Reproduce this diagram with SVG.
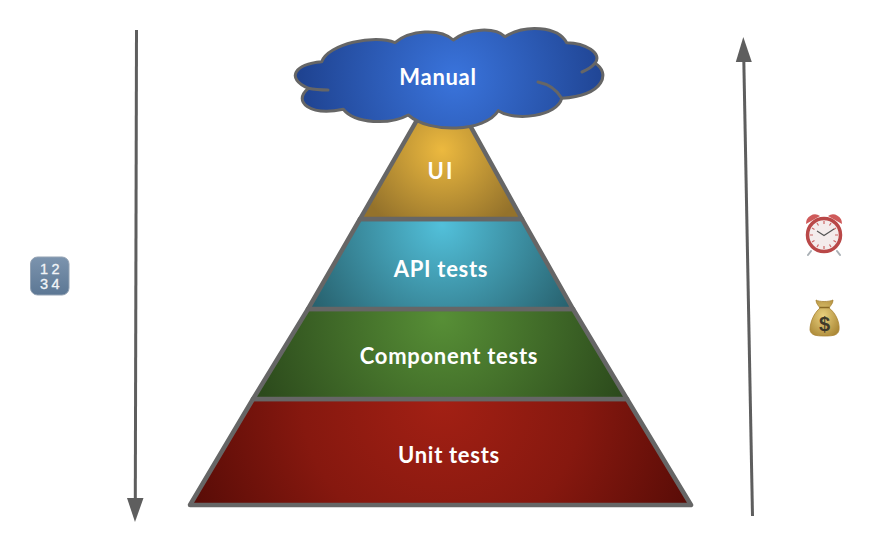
<svg xmlns="http://www.w3.org/2000/svg" width="880" height="557" viewBox="0 0 880 557">
<style>
.band{stroke:#666;stroke-width:4.500;stroke-linejoin:round}
.lbl{font-family:"Lato","Liberation Sans",sans-serif;font-weight:700;font-size:22px;fill:#fff;text-anchor:middle;letter-spacing:.7px}
.conn{fill:none;stroke:#5e5e5e;stroke-width:3}
.tile{font-family:"Liberation Sans",sans-serif;font-size:14.500px;fill:#f2f5f8;stroke:#f2f5f8;stroke-width:.3;text-anchor:middle;letter-spacing:3.500px}
</style>
<defs>
<radialGradient id="gBlue" gradientUnits="userSpaceOnUse" cx="455" cy="78" r="155"><stop offset="0" stop-color="#3a74dc"/><stop offset="1" stop-color="#1f4391"/></radialGradient>
<radialGradient id="gGold" gradientUnits="userSpaceOnUse" cx="442" cy="150" r="90"><stop offset="0" stop-color="#ecb93f"/><stop offset="1" stop-color="#94722b"/></radialGradient>
<radialGradient id="gTeal" gradientUnits="userSpaceOnUse" cx="442" cy="225" r="150"><stop offset="0" stop-color="#52c0da"/><stop offset="1" stop-color="#28626f"/></radialGradient>
<radialGradient id="gGreen" gradientUnits="userSpaceOnUse" cx="442" cy="318" r="195"><stop offset="0" stop-color="#578f36"/><stop offset="1" stop-color="#2c4a1c"/></radialGradient>
<radialGradient id="gRed" gradientUnits="userSpaceOnUse" cx="442" cy="400" r="280"><stop offset="0" stop-color="#a32014"/><stop offset=".5" stop-color="#86180f"/><stop offset="1" stop-color="#540b06"/></radialGradient>
<linearGradient id="gTile" x1="0" y1="0" x2="0" y2="1"><stop offset="0" stop-color="#7c94ae"/><stop offset="1" stop-color="#5c7794"/></linearGradient>
<radialGradient id="gBag" cx=".45" cy=".45" r=".65"><stop offset="0" stop-color="#e9d07e"/><stop offset="1" stop-color="#ab8836"/></radialGradient>
</defs>

<g id="connectors">
<path class="conn" d="M136.500 30L135.300 500"/>
<path d="M127 498L143.500 498L135 522Z" fill="#5e5e5e"/>
<path class="conn" d="M752.500 516L743.800 60"/>
<path d="M735.800 62L751.800 62L743.300 37Z" fill="#5e5e5e"/>
</g>

<g id="node-unit"><path class="band" d="M190 505L253 399L627 399L691 505Z" fill="url(#gRed)"/><text class="lbl" x="449" y="463">Unit tests</text></g>
<g id="node-component"><path class="band" d="M253 399L308 309L573 309L627 399Z" fill="url(#gGreen)"/><text class="lbl" x="449" y="364">Component tests</text></g>
<g id="node-api"><path class="band" d="M308 309L360 219L522 219L573 309Z" fill="url(#gTeal)"/><text class="lbl" x="441" y="277">API tests</text></g>
<g id="node-ui"><path class="band" d="M360 219L417 120L467 120L522 219Z" fill="url(#gGold)"/><text class="lbl" x="441" y="179" style="letter-spacing:2px">UI</text></g>

<g id="node-manual">
<path d="M321.700 61.700C328 44 375 34 395 42.700C410 30 440 28 453.300 40C468 28 495 27 505 36.700C525 24 558 26 566.700 42.700C585 43 603 53 595 63.300C610 72 606 95 561.700 98.300C558 116 515 122 498.300 110.700C485 132 430 134 408.300 115C390 125 355 124 343.300 109.300C310 116 292 102 308.300 88.300C285 78 295 64 321.700 61.700Z" fill="url(#gBlue)" stroke="#666" stroke-width="3" stroke-linejoin="round"/>
<path d="M308.300 88.300C316 90 321 90 328 90M595 63.300C591 68 587 70 582 72M538 82C548 84 557 90 561.700 98.300" fill="none" stroke="#666" stroke-width="3" stroke-linecap="round"/>
<text class="lbl" x="438" y="85">Manual</text>
</g>

<g id="node-numbers">
<rect x="30.500" y="257" width="38.500" height="38" rx="7" fill="url(#gTile)" stroke="#93a2b3"/>
<text class="tile" x="51.500" y="273.500">12</text>
<text class="tile" x="51.500" y="288.500">34</text>
</g>

<g id="node-clock">
<path d="M811 251L808 255M837 251L840 255" stroke="#a9b0b5" stroke-width="2" stroke-linecap="round"/>
<path d="M806 224A9 9 0 0 1 820 216ZM842 224A9 9 0 0 0 828 216Z" fill="#cf5a5a"/>
<circle cx="824" cy="235" r="16.500" fill="#f4ecec" stroke="#b94848" stroke-width="3.500"/>
<path d="M824 221V224M824 246V249M810 235H813M835 235H838M817 223L818.500 225.500M831 223L829.500 225.500M817 247L818.500 244.500M831 247L829.500 244.500M812 228L814.500 229.500M836 228L833.500 229.500M812 242L814.500 240.500M836 242L833.500 240.500" stroke="#c66" stroke-width="1.200"/>
<path d="M817 231L824 235.500L834 229" fill="none" stroke="#555" stroke-width="1.200"/>
</g>

<g id="node-money">
<path d="M816 300C819 302 829 302 833 300C833 304 830 306 829 308C836 313 840 323 839 330C838 335 834 336 825 336C815 336 811 335 810 330C810 322 814 313 820 308C819 306 816 304 816 300Z" fill="url(#gBag)" stroke="#a98434" stroke-width=".8"/>
<path d="M819.500 307.500L829.500 307.500" stroke="#8a6a25" stroke-width="1.500"/>
<text x="824.500" y="331" font-family="Liberation Sans,sans-serif" font-size="20" font-weight="700" fill="#3f3a2a" text-anchor="middle">$</text>
</g>
</svg>
